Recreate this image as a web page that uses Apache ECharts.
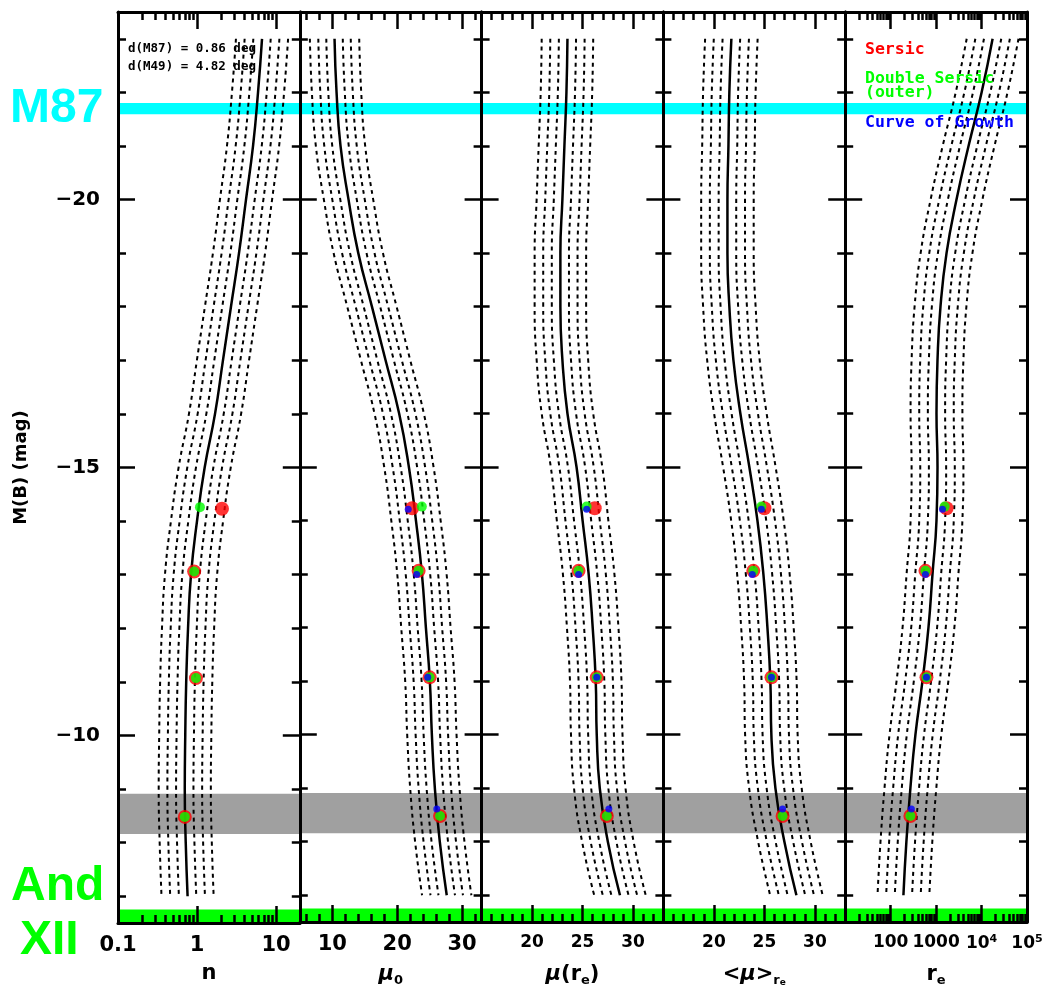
<!DOCTYPE html>
<html>
<head>
<meta charset="utf-8">
<script src="https://cdn.jsdelivr.net/npm/echarts@6/dist/echarts.min.js"></script>
<style>
html, body { margin: 0; padding: 0; background: #fff; }
#chart { width: 1049px; height: 992px; }
</style>
</head>
<body>
<div id="chart"></div>
<script>
// M(B) grid of the model relations (solid = mean, dashed = scatter levels)
var magGrid = [-23, -22, -21, -20, -19, -18, -17, -16, -15, -14, -13, -12, -11, -10, -9, -8, -7];
var nMean = [6.65, 5.92, 5.12, 4.17, 3.40, 2.69, 2.13, 1.69, 1.25, 1.0, 0.84, 0.77, 0.73, 0.71, 0.70, 0.72, 0.76];
var mu0Mean = [10.35, 10.66, 11.27, 12.5, 14.0, 16.1, 18.2, 20.3, 21.8, 22.89, 23.81, 24.42, 25.03, 25.34, 25.8, 26.56, 27.63];
var muReMean = [23.5, 23.4, 23.2, 23.0, 22.8, 22.8, 23.0, 23.5, 24.4, 25.0, 25.6, 26.0, 26.3, 26.4, 26.7, 27.5, 28.7];
var muAvgMean = [21.73, 21.53, 21.44, 21.34, 21.34, 21.53, 21.93, 22.62, 23.51, 24.31, 24.90, 25.3, 25.59, 25.69, 26.09, 26.98, 28.17];
var reMean = [17500, 10050, 5190, 2820, 1700, 1250, 1074, 1020, 1074, 1020, 833, 679, 501, 351, 272, 222, 191];

// offsets of the dashed lines (dex for log panels, mag for the others)
var nSigma = [-0.33, -0.22, -0.11, 0.11, 0.22, 0.33];
var mu0Sigma = [-3.8, -2.5, -1.27, 1.27, 2.5, 3.8];
var muReSigma = [-2.55, -1.7, -0.85, 0.85, 1.7, 2.55];
var muAvgSigma = [-2.6, -1.74, -0.87, 0.87, 1.74, 2.6];
var reSigma = [-0.57, -0.38, -0.19, 0.19, 0.38, 0.57];

// the four galaxies, three fits
var sersicMag = [-14.23, -13.06, -11.07, -8.48];
var doubleMag = [-14.26, -13.06, -11.07, -8.48];
var cogMag = [-14.21, -12.99, -11.07, -8.61];
var sersicN = [2.07, 0.92, 0.97, 0.70];
var doubleN = [1.09, 0.92, 0.97, 0.70];
var sersicMu0 = [22.3, 23.3, 25.0, 26.6];
var doubleMu0 = [23.8, 23.3, 25.0, 26.6];
var cogMu0 = [21.7, 23.0, 24.7, 26.1];
var sersicMuRe = [26.2, 24.6, 26.4, 27.4];
var doubleMuRe = [25.4, 24.6, 26.4, 27.4];
var cogMuRe = [25.4, 24.6, 26.4, 27.6];
var sersicMuAvg = [25.0, 23.9, 25.7, 26.8];
var doubleMuAvg = [24.7, 23.9, 25.7, 26.8];
var cogMuAvg = [24.7, 23.8, 25.7, 26.8];
var sersicRe = [1700, 583, 614, 272];
var doubleRe = [1540, 583, 614, 272];
var cogRe = [1380, 583, 614, 286];

// horizontal bands (M(B) limits)
var m87Band = [-21.8, -21.59];
var andBand = [-6.75, -6.5];
var grayBand = [-8.91, -8.16];

// axes
var magRange = [-23.5, -6.5];
var magMajor = [-20, -15, -10];
var magMinor = [-23, -22, -21, -19, -18, -17, -16, -14, -13, -12, -11, -9, -8, -7];
var magLabels = ['\u221220', '\u221215', '\u221210'];

var nRange = [0.1, 20];
var nMajor = [0.1, 1, 10];
var nMinor = [0.2, 0.3, 0.4, 0.5, 0.6, 0.7, 0.8, 0.9, 2, 3, 4, 5, 6, 7, 8, 9, 20];
var nLabels = ['0.1', '1', '10'];

var mu0Range = [5, 33];
var mu0Major = [10, 20, 30];
var mu0Minor = [6, 8, 12, 14, 16, 18, 22, 24, 26, 28, 32];
var mu0Labels = ['10', '20', '30'];

var muRange = [15, 33];
var muMajor = [20, 25, 30];
var muMinor = [16, 17, 18, 19, 21, 22, 23, 24, 26, 27, 28, 29, 31, 32];
var muLabels = ['20', '25', '30'];

var reRange = [10, 100000];
var reMajor = [100, 1000, 10000, 100000];
var reMinor = [20, 30, 40, 50, 60, 70, 80, 90, 200, 300, 400, 500, 600, 700, 800, 900,
  2000, 3000, 4000, 5000, 6000, 7000, 8000, 9000, 20000, 30000, 40000, 50000, 60000, 70000, 80000, 90000];
var reLabels = ['100', '1000', '10^4', '10^5'];

var panels = [
  { log: true, range: nRange, major: nMajor, minor: nMinor, labels: nLabels, name: 'n',
    mean: nMean, sigma: nSigma, red: sersicN, green: doubleN, blue: null, fs: 21 },
  { log: false, range: mu0Range, major: mu0Major, minor: mu0Minor, labels: mu0Labels, name: '{it|\u03bc}{sub|0}',
    mean: mu0Mean, sigma: mu0Sigma, red: sersicMu0, green: doubleMu0, blue: cogMu0, fs: 21 },
  { log: false, range: muRange, major: muMajor, minor: muMinor, labels: muLabels, name: '{it|\u03bc}(r{sub|e})',
    mean: muReMean, sigma: muReSigma, red: sersicMuRe, green: doubleMuRe, blue: cogMuRe, fs: 17 },
  { log: false, range: muRange, major: muMajor, minor: muMinor, labels: muLabels, name: '<{it|\u03bc}>{sub|r}{sub2|e}',
    mean: muAvgMean, sigma: muAvgSigma, red: sersicMuAvg, green: doubleMuAvg, blue: cogMuAvg, fs: 17 },
  { log: true, range: reRange, major: reMajor, minor: reMinor, labels: reLabels, name: 'r{sub|e}',
    mean: reMean, sigma: reSigma, red: sersicRe, green: doubleRe, blue: cogRe, fs: 17 }
];

var FONT = 'DejaVu Sans';
var option = {
  animation: false,
  backgroundColor: '#fff',
  grid: [], xAxis: [], yAxis: [], series: [], graphic: []
};

var nameRich = {
  it: { fontStyle: 'italic', fontWeight: 'bold', fontSize: 21, fontFamily: FONT },
  sub: { fontSize: 13, fontWeight: 'bold', verticalAlign: 'bottom', padding: [12, 0, 0, 0], fontFamily: FONT },
  sub2: { fontSize: 9, fontWeight: 'bold', verticalAlign: 'bottom', padding: [16, 0, 0, 0], fontFamily: FONT }
};

function pairs(xs, ys) {
  return xs.map(function (x, k) { return [x, ys[k]]; });
}

panels.forEach(function (p, i) {
  var t = p.log ? Math.log10 : function (v) { return v; };
  var gw = 181.8;
  option.grid.push({ left: 118 + i * gw, top: 12, width: gw, height: 911 });

  var xBase = option.xAxis.length;
  // data axis (hidden)
  option.xAxis.push({ type: p.log ? 'log' : 'value', gridIndex: i, min: p.range[0], max: p.range[1], show: false });
  // drawn tick axes
  var majT = p.major.map(t), minT = p.minor.map(t);
  ['bottom', 'top'].forEach(function (pos) {
    option.xAxis.push({
      type: 'value', gridIndex: i, position: pos, min: t(p.range[0]), max: t(p.range[1]), z: 5,
      axisLine: { show: true, onZero: false, lineStyle: { color: '#000', width: 3 } },
      axisTick: { show: true, inside: true, length: 17, customValues: majT, lineStyle: { color: '#000', width: 2.5 } },
      axisLabel: {
        show: pos === 'bottom', customValues: majT, margin: 12, color: '#000',
        fontSize: p.fs, fontWeight: 'bold', fontFamily: FONT,
        formatter: function (v) {
          var k = 0;
          majT.forEach(function (m, j) { if (Math.abs(m - v) < 1e-6) k = j; });
          var s = p.labels[k];
          if (s.indexOf('^') > 0) { var a = s.split('^'); return a[0] + '{sup|' + a[1] + '}'; }
          return s;
        },
        rich: { sup: { fontSize: 11, fontWeight: 'bold', verticalAlign: 'top', padding: [0, 0, 8, 0], fontFamily: FONT } }
      },
      splitLine: { show: false },
      name: pos === 'bottom' ? p.name : '', nameLocation: 'middle', nameGap: 40,
      nameTextStyle: { color: '#000', fontSize: 21, fontWeight: 'bold', fontFamily: FONT, rich: nameRich }
    });
    option.xAxis.push({
      type: 'value', gridIndex: i, position: pos, min: t(p.range[0]), max: t(p.range[1]), z: 5,
      axisLine: { show: false, onZero: false },
      axisTick: { show: true, inside: true, length: 8, customValues: minT, lineStyle: { color: '#000', width: 2.5 } },
      axisLabel: { show: false }, splitLine: { show: false }
    });
  });

  var yBase = option.yAxis.length;
  ['left', 'right'].forEach(function (pos) {
    var first = i === 0 && pos === 'left';
    option.yAxis.push({
      type: 'value', gridIndex: i, position: pos, min: magRange[0], max: magRange[1], inverse: true, z: 5,
      axisLine: { show: true, onZero: false, lineStyle: { color: '#000', width: 3 } },
      axisTick: { show: true, inside: true, length: 17, customValues: magMajor, lineStyle: { color: '#000', width: 2.5 } },
      axisLabel: {
        show: first, customValues: magMajor, margin: 18, color: '#000',
        fontSize: 20, fontWeight: 'bold', fontFamily: FONT,
        formatter: function (v) { return magLabels[magMajor.indexOf(v)]; }
      },
      splitLine: { show: false },
      name: first ? 'M(B) (mag)' : '', nameLocation: 'middle', nameGap: 88, nameRotate: 90,
      nameTextStyle: { color: '#000', fontSize: 18, fontWeight: 'bold', fontFamily: FONT }
    });
    option.yAxis.push({
      type: 'value', gridIndex: i, position: pos, min: magRange[0], max: magRange[1], inverse: true, z: 5,
      axisLine: { show: false, onZero: false },
      axisTick: { show: true, inside: true, length: 8, customValues: magMinor, lineStyle: { color: '#000', width: 2.5 } },
      axisLabel: { show: false }, splitLine: { show: false }
    });
  });

  // bands
  option.series.push({
    type: 'line', xAxisIndex: xBase, yAxisIndex: yBase, data: [], z: 1, silent: true,
    markArea: { silent: true, itemStyle: { color: '#a0a0a0' }, data: [[{ yAxis: grayBand[0] }, { yAxis: grayBand[1] }]] }
  });
  option.series.push({
    type: 'line', xAxisIndex: xBase, yAxisIndex: yBase, data: [], z: 1, silent: true,
    markArea: { silent: true, itemStyle: { color: '#00ff00' }, data: [[{ yAxis: andBand[0] }, { yAxis: andBand[1] }]] }
  });
  option.series.push({
    type: 'line', xAxisIndex: xBase, yAxisIndex: yBase, data: [], z: 10, silent: true,
    markArea: { silent: true, itemStyle: { color: '#00ffff' }, data: [[{ yAxis: m87Band[0] }, { yAxis: m87Band[1] }]] }
  });

  // mean relation and scatter levels
  option.series.push({
    type: 'line', xAxisIndex: xBase, yAxisIndex: yBase, smooth: true, showSymbol: false, z: 3,
    data: pairs(p.mean, magGrid), lineStyle: { color: '#000', width: 2.5 }
  });
  p.sigma.forEach(function (s) {
    var xs = p.mean.map(function (v) { return p.log ? v * Math.pow(10, s) : v + s; });
    option.series.push({
      type: 'line', xAxisIndex: xBase, yAxisIndex: yBase, smooth: true, showSymbol: false, z: 3,
      data: pairs(xs, magGrid), lineStyle: { color: '#000', width: 2, type: [4, 4] }
    });
  });

  // galaxies
  option.series.push({ type: 'scatter', xAxisIndex: xBase, yAxisIndex: yBase, z: 6, symbolSize: 14,
    itemStyle: { color: '#ff0000' }, data: pairs(p.red, sersicMag) });
  option.series.push({ type: 'scatter', xAxisIndex: xBase, yAxisIndex: yBase, z: 7, symbolSize: 10,
    itemStyle: { color: '#00ff00' }, data: pairs(p.green, doubleMag) });
  if (p.blue) {
    option.series.push({ type: 'scatter', xAxisIndex: xBase, yAxisIndex: yBase, z: 8, symbolSize: 7,
      itemStyle: { color: '#0000ff' }, data: pairs(p.blue, cogMag) });
  }
});

// texts
function txt(s, x, y, font, color) {
  return { type: 'text', z: 20, style: { text: s, x: x, y: y, font: font, fill: color, textVerticalAlign: 'middle' } };
}
var bigFont = 'bold 48px "Liberation Sans"';
var legFont = 'bold 16.5px "DejaVu Sans Mono"';
option.graphic = [
  txt('M87', 10, 109, bigFont, '#00ffff'),
  txt('And', 11, 887, bigFont, '#00ff00'),
  txt('XII', 20, 941, bigFont, '#00ff00'),
  txt('d(M87) = 0.86 deg', 128, 49, 'bold 12.5px "DejaVu Sans Mono"', '#000'),
  txt('d(M49) = 4.82 deg', 128, 67, 'bold 12.5px "DejaVu Sans Mono"', '#000'),
  txt('Sersic', 865, 50, legFont, '#ff0000'),
  txt('Double Sersic', 865, 79, legFont, '#00ff00'),
  txt('(outer)', 865, 93, legFont, '#00ff00'),
  txt('Curve of Growth', 865, 123, legFont, '#0000ff')
];

var myChart = echarts.init(document.getElementById('chart'));
myChart.setOption(option);
</script>
</body>
</html>
